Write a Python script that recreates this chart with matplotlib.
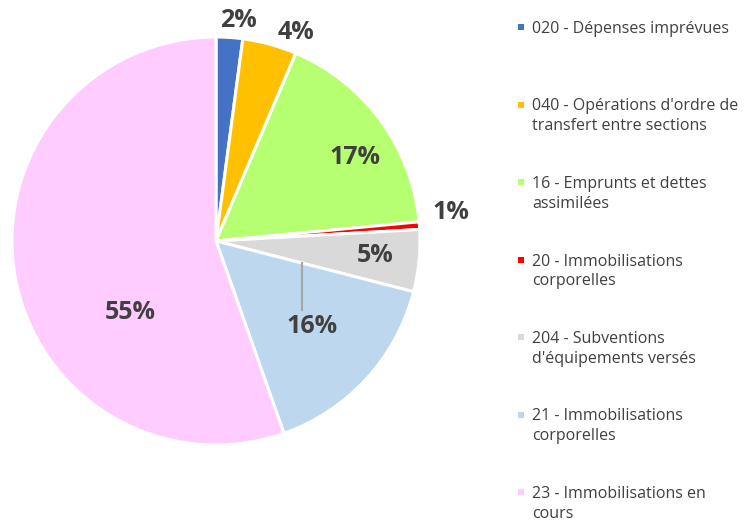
import matplotlib
matplotlib.use("Agg")
import matplotlib.pyplot as plt
from matplotlib.patches import Rectangle

categories = [
    "020 - Dépenses imprévues",
    "040 - Opérations d'ordre de\ntransfert entre sections",
    "16 - Emprunts et dettes\nassimilées",
    "20 - Immobilisations\ncorporelles",
    "204 - Subventions\nd'équipements versés",
    "21 - Immobilisations\ncorporelles",
    "23 - Immobilisations en\ncours",
]
values = [2.1, 4.3, 17.1, 0.6, 4.9, 15.6, 55.4]
pct_labels = ["2%", "4%", "17%", "1%", "5%", "16%", "55%"]
colors = ["#4472C4", "#FFC000", "#B5FF70", "#FF0000", "#D9D9D9", "#BDD7EE", "#FFCCFF"]

# label placement (data coords, pie radius = 1)
label_pos = [(0.11, 1.08), (0.39, 1.02), (0.68, 0.41), (1.15, 0.14),
             (0.78, -0.07), (0.47, -0.42), (-0.42, -0.35)]

W, H = 744, 523
fig = plt.figure(figsize=(W / 100, H / 100), dpi=100)
cx, cy, r = 216, 241, 204
ax = fig.add_axes([(cx - r) / W, (H - cy - r) / H, 2 * r / W, 2 * r / H])
ax.pie(values, colors=colors, startangle=90, counterclock=False, radius=1,
       wedgeprops=dict(edgecolor="white", linewidth=2.2))
ax.set_xlim(-1, 1)
ax.set_ylim(-1, 1)
ax.set_aspect("equal")
ax.axis("off")

for lab, (x, y) in zip(pct_labels, label_pos):
    ax.text(x, y, lab, ha="center", va="center", fontsize=18, fontweight="bold",
            color="#404040", family="Open Sans", clip_on=False)

# leader line for 16% label
ax.plot([0.423, 0.423], [-0.11, -0.34], color="#A6A6A6", lw=1.5, clip_on=False)

# legend
lx = 521 / W
tx = 532 / W
y0 = 27
step = 77.5
for i, (cat, col) in enumerate(zip(categories, colors)):
    ypix = y0 + i * step
    fig.patches.append(Rectangle((lx - 3 / W, (H - ypix - 3) / H), 6 / W, 6 / H,
                                 transform=fig.transFigure, facecolor=col,
                                 edgecolor="none"))
    fig.text(tx, (H - ypix + 6) / H, cat, ha="left", va="top", fontsize=11.5,
             color="#404040", family="Open Sans", linespacing=1.33)

fig.savefig("out.png", dpi=100, facecolor="white")
